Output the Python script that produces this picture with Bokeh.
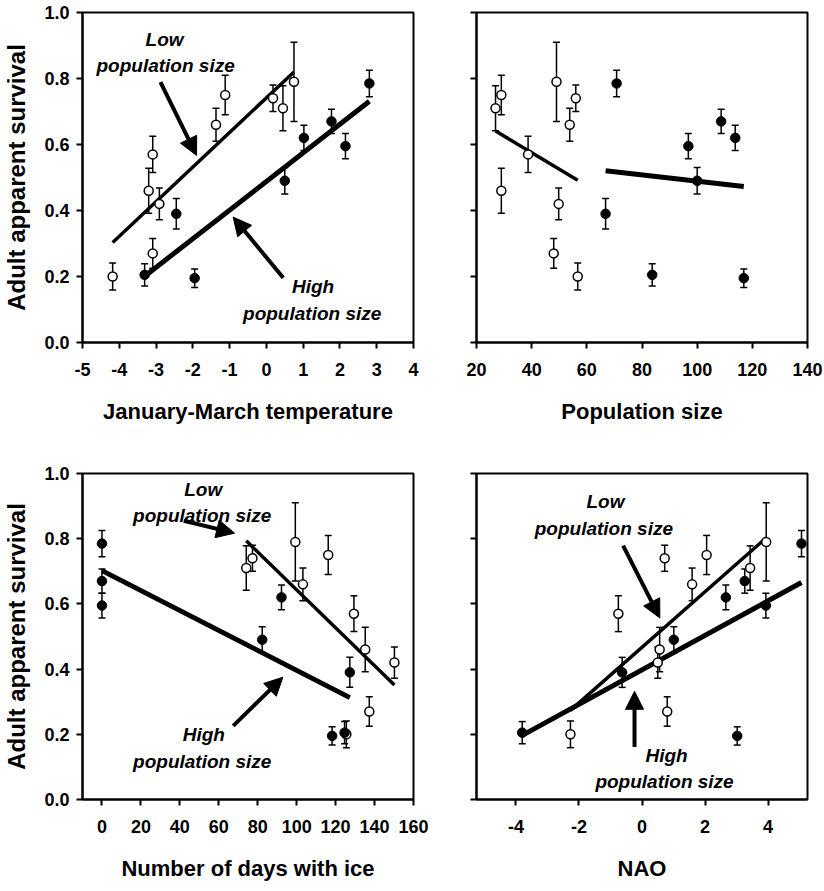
import numpy as np
from bokeh.plotting import figure
from bokeh.models import (Range1d, FixedTicker, PrintfTickFormatter, CustomJSTickFormatter,
                          Whisker, TeeHead, ColumnDataSource, Arrow, NormalHead, Label)
from bokeh.layouts import gridplot
from bokeh.embed import file_html
from bokeh.resources import INLINE

# ---------------- data ----------------
# Low population size years (open circles)
surv_low = [0.20, 0.46, 0.57, 0.42, 0.27, 0.66, 0.75, 0.74, 0.71, 0.79]
se_low = [0.041, 0.068, 0.055, 0.048, 0.045, 0.05, 0.06, 0.04, 0.068, 0.12]
temp_low = [-4.18, -3.20, -3.09, -2.91, -3.09, -1.37, -1.12, 0.18, 0.45, 0.75]
pop_low = [56.7, 29.0, 38.7, 49.8, 48.0, 53.8, 29.0, 56.0, 26.9, 49.0]
ice_low = [125.5, 135.2, 129.4, 150.2, 137.3, 103.2, 116.2, 77.3, 74.1, 99.3]
nao_low = [-2.27, 0.56, -0.75, 0.50, 0.80, 1.59, 2.05, 0.72, 3.43, 3.94]

# High population size years (filled circles)
surv_high = [0.205, 0.195, 0.39, 0.49, 0.62, 0.67, 0.595, 0.785]
se_high = [0.034, 0.028, 0.046, 0.04, 0.038, 0.037, 0.038, 0.04]
temp_high = [-3.31, -1.95, -2.45, 0.50, 1.02, 1.77, 2.15, 2.80]
pop_high = [83.7, 116.9, 66.8, 100.0, 113.8, 108.7, 96.8, 70.8]
ice_high = [124.6, 118.2, 127.3, 82.3, 92.2, 0.0, 0.0, 0.0]
nao_high = [-3.80, 3.02, -0.63, 1.01, 2.66, 3.26, 3.93, 5.06]

y_ticks = [0.0, 0.2, 0.4, 0.6, 0.8, 1.0]
temp_ticks = [-5, -4, -3, -2, -1, 0, 1, 2, 3, 4]
pop_ticks = [20, 40, 60, 80, 100, 120, 140]
ice_ticks = [0, 20, 40, 60, 80, 100, 120, 140, 160]
nao_ticks = [-4, -2, 0, 2, 4]

FONT = "Liberation Sans"


def fit_line(x, y):
    x = np.asarray(x, dtype=float)
    y = np.asarray(y, dtype=float)
    b, a = np.polyfit(x, y, 1)
    xs = np.array([x.min(), x.max()])
    return xs, a + b * xs


def make_panel(xr, xticks, xlabel, left, top, xl, xh, notes):
    bl = 82 if left else 43
    br = 20 if left else 17
    bt = 12 if top else 31
    bb = 100 if top else 80
    fh = 330
    p = figure(width=bl + 331 + br, height=bt + fh + bb,
               x_range=Range1d(*xr), y_range=Range1d(0, 1),
               output_backend="svg", toolbar_location=None,
               min_border_left=bl, min_border_right=br,
               min_border_top=bt, min_border_bottom=bb)
    p.xgrid.visible = False
    p.ygrid.visible = False
    p.outline_line_color = "black"
    p.outline_line_width = 2
    p.background_fill_color = "white"
    p.border_fill_color = "white"

    p.xaxis.ticker = FixedTicker(ticks=xticks)
    p.xaxis.formatter = PrintfTickFormatter(format="%d")
    p.yaxis.ticker = FixedTicker(ticks=y_ticks)
    if left:
        p.yaxis.formatter = PrintfTickFormatter(format="%.1f")
        p.yaxis.axis_label = "Adult apparent survival"
    else:
        p.yaxis.formatter = CustomJSTickFormatter(code="return ''")
    p.xaxis.axis_label = xlabel

    for ax in p.axis:
        ax.axis_line_width = 2
        ax.axis_line_color = "black"
        ax.major_tick_line_width = 2
        ax.major_tick_line_color = "black"
        ax.major_tick_out = 6
        ax.major_tick_in = 0
        ax.minor_tick_line_color = None
        ax.major_label_text_font = FONT
        ax.major_label_text_font_style = "bold"
        ax.major_label_text_font_size = "18px"
        ax.major_label_text_color = "black"
        ax.axis_label_text_font = FONT
        ax.axis_label_text_font_style = "bold"
        ax.axis_label_text_color = "black"
    p.xaxis.major_label_standoff = 14
    p.xaxis.axis_label_standoff = 20
    p.xaxis.axis_label_text_font_size = "22px"
    p.yaxis.major_label_standoff = 7
    p.yaxis.axis_label_standoff = 11
    p.yaxis.axis_label_text_font_size = "24px"

    # regression lines
    lx, ly = fit_line(xl, surv_low)
    hx, hy = fit_line(xh, surv_high)
    p.line(lx, ly, line_color="black", line_width=3.5)
    p.line(hx, hy, line_color="black", line_width=5)

    # error bars
    for xs, ys, se in ((xl, surv_low, se_low), (xh, surv_high, se_high)):
        ys_a = np.asarray(ys)
        se_a = np.asarray(se)
        src = ColumnDataSource(dict(x=list(xs), lo=list(ys_a - se_a), hi=list(ys_a + se_a)))
        w = Whisker(source=src, base="x", lower="lo", upper="hi", dimension="height",
                    line_color="black", line_width=1.5,
                    lower_head=TeeHead(size=7, line_width=1.5, line_color="black"),
                    upper_head=TeeHead(size=7, line_width=1.5, line_color="black"))
        p.add_layout(w)

    p.scatter(xl, surv_low, marker="circle", size=9, fill_color="white",
              line_color="black", line_width=1.5)
    p.scatter(xh, surv_high, marker="circle", size=9.5, fill_color="black",
              line_color="black", line_width=1)

    for kind, a, b, c, d in notes:
        if kind == "text":
            p.add_layout(Label(x=a, y=b, text=c, text_align="center", text_baseline="middle",
                               text_font=FONT, text_font_style="bold italic",
                               text_font_size="19px", text_color="black"))
        else:
            p.add_layout(Arrow(end=NormalHead(size=18, fill_color="black", line_color="black"),
                               x_start=a, y_start=b, x_end=c, y_end=d,
                               line_color="black", line_width=4))
    return p


notes1 = [("text", -2.77, 0.918, "Low", None),
          ("text", -2.74, 0.839, "population size", None),
          ("arrow", -2.88, 0.789, -1.90, 0.567),
          ("text", 1.27, 0.170, "High", None),
          ("text", 1.245, 0.087, "population size", None),
          ("arrow", 0.457, 0.196, -0.903, 0.380)]
notes3 = [("text", 52.0, 0.951, "Low", None),
          ("text", 51.5, 0.870, "population size", None),
          ("arrow", 42.0, 0.855, 68.1, 0.817),
          ("text", 52.3, 0.199, "High", None),
          ("text", 51.5, 0.117, "population size", None),
          ("arrow", 67.4, 0.226, 92.9, 0.375)]
notes4 = [("text", -1.16, 0.913, "Low", None),
          ("text", -1.21, 0.832, "population size", None),
          ("arrow", -0.60, 0.779, 0.566, 0.557),
          ("text", 0.778, 0.135, "High", None),
          ("text", 0.715, 0.055, "population size", None),
          ("arrow", -0.237, 0.161, -0.237, 0.332)]

p1 = make_panel((-5, 4), temp_ticks, "January-March temperature", True, True,
                temp_low, temp_high, notes1)
p2 = make_panel((20, 140), pop_ticks, "Population size", False, True,
                pop_low, pop_high, [])
p3 = make_panel((-10, 160), ice_ticks, "Number of days with ice", True, False,
                ice_low, ice_high, notes3)
p4 = make_panel((-5.25, 5.25), nao_ticks, "NAO", False, False,
                nao_low, nao_high, notes4)

grid = gridplot([[p1, p2], [p3, p4]], toolbar_location=None)

open("out.html", "w").write(file_html(grid, INLINE))
